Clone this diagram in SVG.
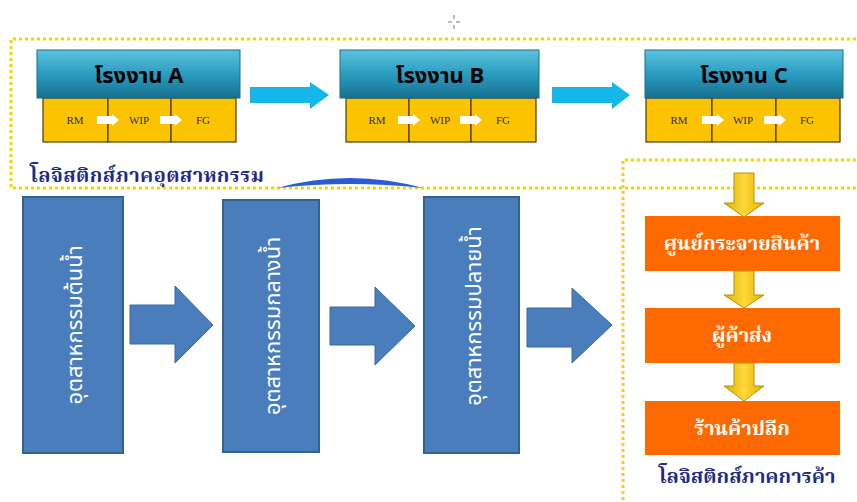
<svg xmlns="http://www.w3.org/2000/svg" width="857" height="502" viewBox="0 0 857 502">
<defs>
<linearGradient id="hdr" x1="0" y1="0" x2="0" y2="1">
<stop offset="0" stop-color="#5cc3dd"/><stop offset="0.5" stop-color="#2a9cc0"/><stop offset="1" stop-color="#17708f"/>
</linearGradient>
<linearGradient id="ya" x1="0" y1="0" x2="1" y2="0">
<stop offset="0" stop-color="#e0b000"/><stop offset="0.5" stop-color="#ffd83a"/><stop offset="1" stop-color="#e0b000"/>
</linearGradient>
<style>
.dot{fill:none;stroke:#f2d21a;stroke-width:3;stroke-dasharray:3 3}
.hdr{fill:url(#hdr);stroke:#1b6f8a;stroke-width:1}
.hdrt{font-family:"Noto Sans Thai","Noto Sans","DejaVu Sans",sans-serif;font-weight:bold;font-size:22px;fill:#000;text-anchor:middle}
.cell{fill:#fcc400;stroke:#4a3a10;stroke-width:1.2}
.ct{font-family:"Liberation Serif",serif;font-size:11px;fill:#333;text-anchor:middle}
.wa{fill:#ffffff}
.ca{fill:#13b8e8}
.bb{fill:#4a7dbb;stroke:#35618f;stroke-width:2}
.bt{font-family:"Noto Sans Thai","Noto Sans","DejaVu Sans",sans-serif;font-size:22px;fill:#fff;text-anchor:middle}
.ba{fill:#4a7dbb;stroke:#3a6a9e;stroke-width:1}
.ob{fill:#ff6a00}
.ot{font-family:"Noto Serif Thai","Liberation Serif",serif;font-weight:bold;font-size:20px;fill:#fff;text-anchor:middle}
.ya{fill:url(#ya);stroke:#b89400;stroke-width:1}
.lbl{font-family:"Noto Serif Thai","Liberation Serif",serif;font-weight:bold;font-size:20px;fill:#1d2a80}
</style>
</defs>
<rect width="857" height="502" fill="#fff"/>
<!-- dotted regions -->
<g id="regions">
<path class="dot" d="M862 39 H11 V188 H862"/>
<path class="dot" d="M862 160 H623 V505"/>
<path d="M277 188 Q350 168 423 188 Q350 180 277 188 Z" fill="#2a5cd6"/>
<g stroke="#777" stroke-width="1"><line x1="448" y1="22" x2="452" y2="22"/><line x1="456" y1="22" x2="460" y2="22"/><line x1="454" y1="15" x2="454" y2="19"/><line x1="454" y1="25" x2="454" y2="29"/></g>
</g>
<!-- factories -->
<g id="factoryA">
<rect class="cell" x="43" y="98" width="65" height="44"/><rect class="cell" x="108" y="98" width="63" height="44"/><rect class="cell" x="171" y="98" width="65" height="44"/>
<rect class="hdr" x="37" y="50" width="203" height="48"/>
<text class="hdrt" x="139" y="83">โรงงาน A</text>
<text class="ct" x="75" y="124">RM</text><text class="ct" x="139" y="124">WIP</text><text class="ct" x="203" y="124">FG</text>
<path class="wa" d="M97 116 H112 V114 L119 120 L112 126 V124 H97 Z"/><path class="wa" d="M160 116 H175 V114 L182 120 L175 126 V124 H160 Z"/>
</g>
<g id="factoryB">
<rect class="cell" x="346" y="98" width="63" height="44"/><rect class="cell" x="409" y="98" width="62" height="44"/><rect class="cell" x="471" y="98" width="65" height="44"/>
<rect class="hdr" x="340" y="50" width="199" height="48"/>
<text class="hdrt" x="440" y="83">โรงงาน B</text>
<text class="ct" x="377" y="124">RM</text><text class="ct" x="440" y="124">WIP</text><text class="ct" x="503" y="124">FG</text>
<path class="wa" d="M398 116 H413 V114 L420 120 L413 126 V124 H398 Z"/><path class="wa" d="M460 116 H475 V114 L482 120 L475 126 V124 H460 Z"/>
</g>
<g id="factoryC">
<rect class="cell" x="646" y="98" width="66" height="44"/><rect class="cell" x="712" y="98" width="64" height="44"/><rect class="cell" x="776" y="98" width="64" height="44"/>
<rect class="hdr" x="645" y="50" width="198" height="48"/>
<text class="hdrt" x="744" y="83">โรงงาน C</text>
<text class="ct" x="679" y="124">RM</text><text class="ct" x="743" y="124">WIP</text><text class="ct" x="807" y="124">FG</text>
<path class="wa" d="M702 116 H717 V114 L724 120 L717 126 V124 H702 Z"/><path class="wa" d="M764 116 H779 V114 L786 120 L779 126 V124 H764 Z"/>
</g>
<!-- blue industry boxes -->
<g id="upstream">
<rect class="bb" x="23" y="197" width="100" height="256"/>
<text class="bt" transform="translate(82 325) rotate(-90)">อุตสาหกรรมต้นน้ำ</text>
</g>
<g id="midstream">
<rect class="bb" x="223" y="200" width="96" height="252"/>
<text class="bt" transform="translate(280 326) rotate(-90)">อุตสาหกรรมกลางน้ำ</text>
</g>
<g id="downstream">
<rect class="bb" x="424" y="197" width="95" height="256"/>
<text class="bt" transform="translate(481 316) rotate(-90)">อุตสาหกรรมปลายน้ำ</text>
</g>
<!-- orange trade boxes -->
<g id="dc">
<rect class="ob" x="645" y="216" width="195" height="55"/>
<text class="ot" x="742" y="250">ศูนย์กระจายสินค้า</text>
</g>
<g id="wholesale">
<rect class="ob" x="645" y="308" width="195" height="55"/>
<text class="ot" x="742" y="342">ผู้ค้าส่ง</text>
</g>
<g id="retail">
<rect class="ob" x="645" y="401" width="195" height="54"/>
<text class="ot" x="742" y="435">ร้านค้าปลีก</text>
</g>
<!-- labels -->
<g id="labels">
<text class="lbl" x="30" y="182" textLength="234" lengthAdjust="spacing">โลจิสติกส์ภาคอุตสาหกรรม</text>
<text class="lbl" x="747" y="483" text-anchor="middle">โลจิสติกส์ภาคการค้า</text>
</g>
<!-- connectors -->
<g id="connectors">
<path class="ca" d="M250 87 H310 V82 L329 95 L310 109 V103 H250 Z"/>
<path class="ca" d="M552 87 H612 V82 L630 95 L612 109 V103 H552 Z"/>
<path class="ba" d="M130 305 H175 V286 L213 325 L175 363 V344 H130 Z"/>
<path class="ba" d="M330 307 H375 V287 L415 326 L375 365 V345 H330 Z"/>
<path class="ba" d="M527 308 H572 V288 L612 325 L572 363 V347 H527 Z"/>
<path class="ya" d="M734 173 H754 V203 H764 L744 217 L724 203 H734 Z"/>
<path class="ya" d="M734 271 H754 V295 H764 L744 308 L724 295 H734 Z"/>
<path class="ya" d="M734 363 H754 V386 H764 L744 401 L724 386 H734 Z"/>
</g>
</svg>
